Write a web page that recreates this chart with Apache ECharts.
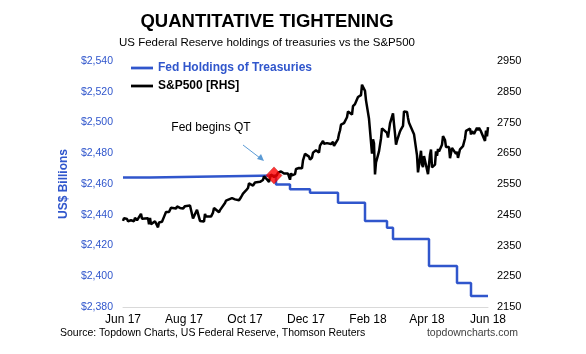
<!DOCTYPE html>
<html>
<head>
<meta charset="utf-8">
<script src="https://cdn.jsdelivr.net/npm/echarts@6/dist/echarts.min.js"></script>
<style>
  html, body { margin: 0; padding: 0; background: #fff; }
  #chart { width: 586px; height: 354px; }
</style>
</head>
<body>
<div id="chart"></div>
<script>
// Fed holdings of treasuries, US$ bn (step changes)
var fedDates = ['2017-06-01', '2017-06-28', '2017-11-01', '2017-11-15', '2017-12-05', '2018-01-02',
    '2018-01-29', '2018-02-20', '2018-02-26', '2018-04-03', '2018-05-01', '2018-05-15', '2018-06-01'];
var fedValues = [2464.2, 2465.5, 2459.6, 2456.6, 2454.3, 2447.8, 2436.0, 2431.6, 2424.2, 2406.7, 2395.6, 2387.2, 2387.2];

// S&P500 daily closes
var spx = [
    ['2017-06-01',2430],['2017-06-02',2439],['2017-06-05',2436],['2017-06-06',2429],['2017-06-07',2433],['2017-06-08',2434],
    ['2017-06-09',2432],['2017-06-12',2429],['2017-06-13',2440],['2017-06-14',2437],['2017-06-15',2432],['2017-06-16',2433],
    ['2017-06-19',2453],['2017-06-20',2437],['2017-06-21',2436],['2017-06-22',2434],['2017-06-23',2438],['2017-06-26',2439],
    ['2017-06-27',2419],['2017-06-28',2440],['2017-06-29',2419],['2017-06-30',2423],
    ['2017-07-03',2429],['2017-07-05',2432],['2017-07-06',2409],['2017-07-07',2425],['2017-07-10',2427],['2017-07-11',2425],
    ['2017-07-12',2443],['2017-07-13',2447],['2017-07-14',2459],['2017-07-17',2459],['2017-07-18',2460],['2017-07-19',2473],
    ['2017-07-20',2474],['2017-07-21',2472],['2017-07-24',2470],['2017-07-25',2477],['2017-07-26',2478],['2017-07-27',2475],
    ['2017-07-28',2472],['2017-07-31',2470],
    ['2017-08-01',2476],['2017-08-02',2478],['2017-08-03',2472],['2017-08-04',2476],['2017-08-07',2480],['2017-08-08',2474],
    ['2017-08-09',2474],['2017-08-10',2438],['2017-08-11',2441],['2017-08-14',2466],['2017-08-15',2464],['2017-08-16',2468],
    ['2017-08-17',2430],['2017-08-18',2426],['2017-08-21',2428],['2017-08-22',2453],['2017-08-23',2444],['2017-08-24',2439],
    ['2017-08-25',2444],['2017-08-28',2444],['2017-08-29',2446],['2017-08-30',2457],['2017-08-31',2472],
    ['2017-09-01',2477],['2017-09-05',2458],['2017-09-06',2465],['2017-09-07',2465],['2017-09-08',2462],['2017-09-11',2488],
    ['2017-09-12',2496],['2017-09-13',2498],['2017-09-14',2495],['2017-09-15',2500],['2017-09-18',2504],['2017-09-19',2506],
    ['2017-09-20',2508],['2017-09-21',2500],['2017-09-22',2502],['2017-09-25',2497],['2017-09-26',2497],['2017-09-27',2507],
    ['2017-09-28',2510],['2017-09-29',2519],
    ['2017-10-02',2529],['2017-10-03',2534],['2017-10-04',2537],['2017-10-05',2552],['2017-10-06',2549],['2017-10-09',2545],
    ['2017-10-10',2551],['2017-10-11',2555],['2017-10-12',2551],['2017-10-13',2553],['2017-10-16',2557],['2017-10-17',2560],
    ['2017-10-18',2561],['2017-10-19',2563],['2017-10-20',2575],['2017-10-23',2565],['2017-10-24',2569],['2017-10-25',2557],
    ['2017-10-26',2560],['2017-10-27',2581],['2017-10-30',2573],['2017-10-31',2575],
    ['2017-11-01',2579],['2017-11-02',2579],['2017-11-03',2587],['2017-11-06',2591],['2017-11-07',2590],['2017-11-08',2594],
    ['2017-11-09',2584],['2017-11-10',2582],['2017-11-13',2584],['2017-11-14',2578],['2017-11-15',2564],['2017-11-16',2585],
    ['2017-11-17',2578],['2017-11-20',2582],['2017-11-21',2599],['2017-11-22',2597],['2017-11-24',2602],['2017-11-27',2601],
    ['2017-11-28',2627],['2017-11-29',2626],['2017-11-30',2648],
    ['2017-12-01',2642],['2017-12-04',2639],['2017-12-05',2629],['2017-12-06',2629],['2017-12-07',2636],['2017-12-08',2652],
    ['2017-12-11',2660],['2017-12-12',2664],['2017-12-13',2662],['2017-12-14',2652],['2017-12-15',2675],['2017-12-18',2690],
    ['2017-12-19',2681],['2017-12-20',2679],['2017-12-21',2684],['2017-12-22',2683],['2017-12-26',2680],['2017-12-27',2682],
    ['2017-12-28',2687],['2017-12-29',2674],
    ['2018-01-02',2696],['2018-01-03',2713],['2018-01-04',2724],['2018-01-05',2743],['2018-01-08',2748],['2018-01-09',2751],
    ['2018-01-10',2748],['2018-01-11',2767],['2018-01-12',2786],['2018-01-16',2776],['2018-01-17',2803],['2018-01-18',2798],
    ['2018-01-19',2810],['2018-01-22',2833],['2018-01-23',2839],['2018-01-24',2837],['2018-01-25',2839],['2018-01-26',2873],
    ['2018-01-29',2853],['2018-01-30',2822],['2018-01-31',2824],
    ['2018-02-01',2822],['2018-02-02',2762],['2018-02-05',2649],['2018-02-06',2695],['2018-02-07',2682],['2018-02-08',2581],
    ['2018-02-09',2620],['2018-02-12',2656],['2018-02-13',2662],['2018-02-14',2698],['2018-02-15',2731],['2018-02-16',2732],
    ['2018-02-20',2716],['2018-02-21',2701],['2018-02-22',2703],['2018-02-23',2747],['2018-02-26',2780],['2018-02-27',2745],
    ['2018-02-28',2714],
    ['2018-03-01',2678],['2018-03-02',2691],['2018-03-05',2721],['2018-03-06',2728],['2018-03-07',2727],['2018-03-08',2739],
    ['2018-03-09',2786],['2018-03-12',2784],['2018-03-13',2765],['2018-03-14',2749],['2018-03-15',2747],['2018-03-16',2752],
    ['2018-03-19',2712],['2018-03-20',2717],['2018-03-21',2711],['2018-03-22',2643],['2018-03-23',2588],['2018-03-26',2658],
    ['2018-03-27',2613],['2018-03-28',2605],['2018-03-29',2641],
    ['2018-04-02',2582],['2018-04-03',2614],['2018-04-04',2645],['2018-04-05',2662],['2018-04-06',2604],['2018-04-09',2613],
    ['2018-04-10',2656],['2018-04-11',2642],['2018-04-12',2664],['2018-04-13',2656],['2018-04-16',2678],['2018-04-17',2706],
    ['2018-04-18',2708],['2018-04-19',2693],['2018-04-20',2670],['2018-04-23',2670],['2018-04-24',2634],['2018-04-25',2639],
    ['2018-04-26',2667],['2018-04-27',2670],['2018-04-30',2648],
    ['2018-05-01',2655],['2018-05-02',2635],['2018-05-03',2630],['2018-05-04',2663],['2018-05-07',2673],['2018-05-08',2672],
    ['2018-05-09',2698],['2018-05-10',2723],['2018-05-11',2728],['2018-05-14',2730],['2018-05-15',2711],['2018-05-16',2722],
    ['2018-05-17',2720],['2018-05-18',2713],['2018-05-21',2733],['2018-05-22',2725],['2018-05-23',2733],['2018-05-24',2727],
    ['2018-05-25',2721],['2018-05-29',2690],['2018-05-30',2724],['2018-05-31',2705],['2018-06-01',2735]
];

var qtStart = ['2017-10-30', 2465.6];
var monthTicks = ['2017-06-01', '2017-08-01', '2017-10-01', '2017-12-01', '2018-02-01', '2018-04-01', '2018-06-01'];
var rightTicks = [2150, 2250, 2350, 2450, 2550, 2650, 2750, 2850, 2950];
var monthNames = ['Jan', 'Feb', 'Mar', 'Apr', 'May', 'Jun', 'Jul', 'Aug', 'Sep', 'Oct', 'Nov', 'Dec'];

var FONT = "'Liberation Sans', Arial, sans-serif";
var BLUE = '#3056cc';

function ts(d) { return echarts.number.parseDate(d).getTime(); }

var fedData = fedDates.map(function (d, i) { return [ts(d), fedValues[i]]; });
var spxData = spx.map(function (p) { return [ts(p[0]), p[1]]; });
var tickTimes = monthTicks.map(ts);

var myChart = echarts.init(document.getElementById('chart'));

var option = {
    backgroundColor: '#fff',
    animation: false,
    textStyle: { fontFamily: FONT },
    grid: { left: 123, right: 98, top: 61, bottom: 47, containLabel: false },
    legend: {
        orient: 'vertical',
        left: 126,
        top: 57,
        itemWidth: 22,
        itemHeight: 14,
        itemGap: 6,
        icon: 'path://M0,0L24,0L24,3L0,3Z',
        data: [
            { name: 'Fed Holdings of Treasuries', textStyle: { color: BLUE } },
            { name: 'S&P500 [RHS]', textStyle: { color: '#000' } }
        ],
        textStyle: { fontFamily: FONT, fontSize: 12, fontWeight: 'bold' }
    },
    xAxis: {
        type: 'value',
        min: tickTimes[0],
        max: tickTimes[tickTimes.length - 1],
        axisLine: { show: true, lineStyle: { color: '#d9d9d9', width: 1 } },
        axisTick: { show: false },
        splitLine: { show: false },
        axisLabel: {
            customValues: tickTimes,
            color: '#000',
            fontSize: 12,
            margin: 7,
            formatter: function (v) {
                var d = new Date(v);
                return monthNames[d.getMonth()] + ' ' + String(d.getFullYear()).slice(2);
            }
        }
    },
    yAxis: [
        {
            type: 'value',
            min: 2380,
            max: 2540,
            interval: 20,
            name: 'US$ Billions',
            nameLocation: 'middle',
            nameGap: 45,
            nameTextStyle: { color: BLUE, fontSize: 12, fontWeight: 'bold', fontFamily: FONT },
            axisLine: { show: false },
            axisTick: { show: false },
            splitLine: { show: false },
            axisLabel: {
                color: BLUE,
                fontSize: 10.5,
                margin: 10,
                formatter: function (v) { return '$' + v.toLocaleString('en-US'); }
            }
        },
        {
            type: 'value',
            min: 2150,
            max: 2950,
            position: 'right',
            axisLine: { show: false },
            axisTick: { show: false },
            splitLine: { show: false },
            axisLabel: {
                customValues: rightTicks,
                color: '#000',
                fontSize: 11,
                margin: 9,
                formatter: function (v) { return String(v); }
            }
        }
    ],
    graphic: [
        { type: 'text', x: 267, y: 22, style: { text: 'QUANTITATIVE TIGHTENING', font: 'bold 18.5px ' + FONT, fill: '#000', textAlign: 'center', textVerticalAlign: 'middle' } },
        { type: 'text', x: 267, y: 43, style: { text: 'US Federal Reserve holdings of treasuries vs the S&P500', font: '11.5px ' + FONT, fill: '#000', textAlign: 'center', textVerticalAlign: 'middle' } },
        { type: 'text', x: 211, y: 128, style: { text: 'Fed begins QT', font: '12px ' + FONT, fill: '#000', textAlign: 'center', textVerticalAlign: 'middle' } },
        { type: 'line', shape: { x1: 243, y1: 145, x2: 260, y2: 158 }, style: { stroke: '#5b9bd5', lineWidth: 1 } },
        { type: 'polygon', shape: { points: [[264, 161], [257, 159], [261, 154]] }, style: { fill: '#5b9bd5' } },
        { type: 'text', x: 60, y: 333, style: { text: 'Source: Topdown Charts, US Federal Reserve, Thomson Reuters', font: '10.5px ' + FONT, fill: '#000', textAlign: 'left', textVerticalAlign: 'middle' } },
        { type: 'text', x: 518, y: 333, style: { text: 'topdowncharts.com', font: '10.5px ' + FONT, fill: '#404040', textAlign: 'right', textVerticalAlign: 'middle' } }
    ],
    series: [
        {
            name: 'Fed Holdings of Treasuries',
            type: 'line',
            yAxisIndex: 0,
            step: 'end',
            symbol: 'none',
            z: 2,
            lineStyle: { color: BLUE, width: 2.5 },
            itemStyle: { color: BLUE },
            data: fedData
        },
        {
            name: 'S&P500 [RHS]',
            type: 'line',
            yAxisIndex: 1,
            symbol: 'none',
            z: 3,
            lineStyle: { color: '#000', width: 2.5 },
            itemStyle: { color: '#000' },
            data: spxData
        },
        {
            name: 'QT start',
            type: 'scatter',
            yAxisIndex: 0,
            symbol: 'diamond',
            symbolSize: [16, 17],
            z: 5,
            itemStyle: { color: '#ff0000', borderColor: '#b00000', borderWidth: 0.5 },
            data: [[ts(qtStart[0]), qtStart[1]]]
        }
    ]
};
myChart.setOption(option);
</script>
</body>
</html>
